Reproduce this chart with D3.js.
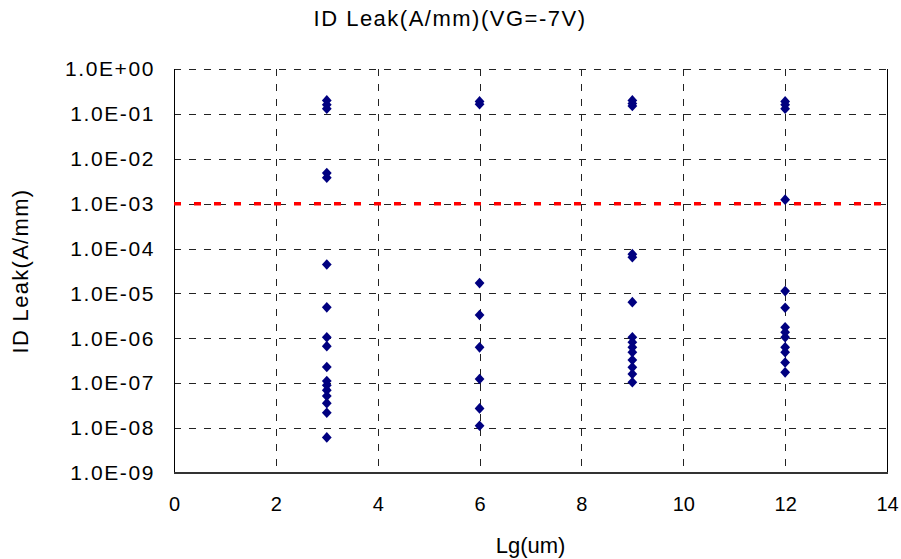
<!DOCTYPE html>
<html>
<head>
<meta charset="utf-8">
<script src="https://cdn.jsdelivr.net/npm/d3@7"></script>
<style>
  html, body { margin: 0; padding: 0; background: #fff; }
  svg text { font-family: "Liberation Sans", Arial, sans-serif; fill: #000; }
</style>
</head>
<body>
<svg id="chart" width="901" height="559"></svg>
<script>
// Gate length groups (um) and measured drain leakage at VG = -7V (A/mm)
const lg3 = [0.20, 0.16, 0.13, 4.8e-3, 3.8e-3, 4.4e-5, 4.9e-6, 1.06e-6, 6.7e-7, 2.3e-7,
             1.12e-7, 9.0e-8, 7.0e-8, 5.2e-8, 3.6e-8, 2.2e-8, 6.2e-9];
const lg6 = [0.19, 0.165, 1.7e-5, 3.3e-6, 6.3e-7, 1.24e-7, 2.75e-8, 1.13e-8];
const lg9 = [0.20, 0.17, 0.15, 7.5e-5, 6.4e-5, 6.4e-6, 1.06e-6, 8.2e-7, 6.3e-7, 4.9e-7,
             3.3e-7, 2.26e-7, 1.6e-7, 1.05e-7];
const lg12 = [0.19, 0.16, 0.13, 1.23e-3, 1.13e-5, 4.8e-6, 1.77e-6, 1.37e-6, 1.06e-6,
              6.3e-7, 4.9e-7, 2.9e-7, 1.75e-7];
const groups = [3, 6, 9, 12];
const leakSets = [lg3, lg6, lg9, lg12];

// Leakage spec limit
const specLimit = 1e-3;

const xTicks = [0, 2, 4, 6, 8, 10, 12, 14];
const yTicks = [1e0, 1e-1, 1e-2, 1e-3, 1e-4, 1e-5, 1e-6, 1e-7, 1e-8, 1e-9];
const yTickLabels = ["1.0E+00", "1.0E-01", "1.0E-02", "1.0E-03", "1.0E-04",
                     "1.0E-05", "1.0E-06", "1.0E-07", "1.0E-08", "1.0E-09"];

const titleText = "ID Leak(A/mm)(VG=-7V)";
const xTitle = "Lg(um)";
const yTitle = "ID Leak(A/mm)";

const svg = d3.select("#chart");
const m = { left: 174, right: 887, top: 69, bottom: 473 };

const x = d3.scaleLinear().domain([0, 14]).range([m.left, m.right]);
const y = d3.scaleLog().domain([1e-9, 1]).range([m.bottom, m.top]);

// Grid lines
const grid = svg.append("g");
grid.selectAll("line.h").data(yTicks.slice(0, -1)).join("line")
  .attr("x1", m.left).attr("x2", m.right)
  .attr("y1", d => Math.round(y(d)) + 0.5).attr("y2", d => Math.round(y(d)) + 0.5)
  .attr("stroke", "#222").attr("stroke-width", 1).attr("stroke-dasharray", "7,8");
grid.selectAll("line.v").data(xTicks.slice(1, -1)).join("line")
  .attr("y1", m.top).attr("y2", m.bottom)
  .attr("x1", d => Math.round(x(d)) + 0.5).attr("x2", d => Math.round(x(d)) + 0.5)
  .attr("stroke", "#222").attr("stroke-width", 1).attr("stroke-dasharray", "7,8");

// Frame: left, right and bottom are solid
svg.append("line").attr("x1", m.left + 0.5).attr("x2", m.left + 0.5)
  .attr("y1", m.top).attr("y2", m.bottom).attr("stroke", "#000");
svg.append("line").attr("x1", m.right + 0.5).attr("x2", m.right + 0.5)
  .attr("y1", m.top).attr("y2", m.bottom).attr("stroke", "#000");
svg.append("line").attr("x1", m.left).attr("x2", m.right + 1)
  .attr("y1", m.bottom).attr("y2", m.bottom).attr("stroke", "#333").attr("stroke-width", 2);

// Axes (labels only; ticks drawn as grid)
const xAxis = d3.axisBottom(x).tickValues(xTicks).tickSize(0).tickPadding(24)
  .tickFormat(d3.format("d"));
svg.append("g").attr("transform", `translate(0,${m.bottom})`).call(xAxis)
  .call(g => g.select(".domain").remove())
  .selectAll("text").attr("font-size", 20).attr("font-family", "Liberation Sans");

const yAxis = d3.axisLeft(y).tickValues(yTicks).tickSize(0).tickPadding(19)
  .tickFormat((d, i) => yTickLabels[i]);
svg.append("g").attr("transform", `translate(${m.left},0)`).call(yAxis)
  .call(g => g.select(".domain").remove())
  .selectAll("text").attr("font-size", 21).attr("letter-spacing", 1.6)
  .attr("font-family", "Liberation Sans");

// Spec limit line
svg.append("line")
  .attr("x1", m.left).attr("x2", m.right + 3)
  .attr("y1", y(specLimit)).attr("y2", y(specLimit))
  .attr("stroke", "#ff0000").attr("stroke-width", 3.5).attr("stroke-dasharray", "7,13");

// Data points
const pts = [];
groups.forEach((g, i) => leakSets[i].forEach(v => pts.push({ lg: g, v })));
svg.append("g").selectAll("path").data(pts).join("path")
  .attr("d", d3.symbol().type(d3.symbolDiamond2).size(72))
  .attr("transform", d => `translate(${x(d.lg)},${y(d.v)}) scale(0.92,1)`)
  .attr("fill", "#000080");

// Titles
svg.append("text").attr("x", 450).attr("y", 26).attr("text-anchor", "middle")
  .attr("font-size", 22).attr("letter-spacing", 1.5).text(titleText);
svg.append("text").attr("x", (m.left + m.right) / 2).attr("y", 553).attr("text-anchor", "middle")
  .attr("font-size", 22).text(xTitle);
svg.append("text").attr("transform", `translate(28,${(m.top + m.bottom) / 2}) rotate(-90)`)
  .attr("text-anchor", "middle").attr("font-size", 22).attr("letter-spacing", 1.3).text(yTitle);
</script>
</body>
</html>
